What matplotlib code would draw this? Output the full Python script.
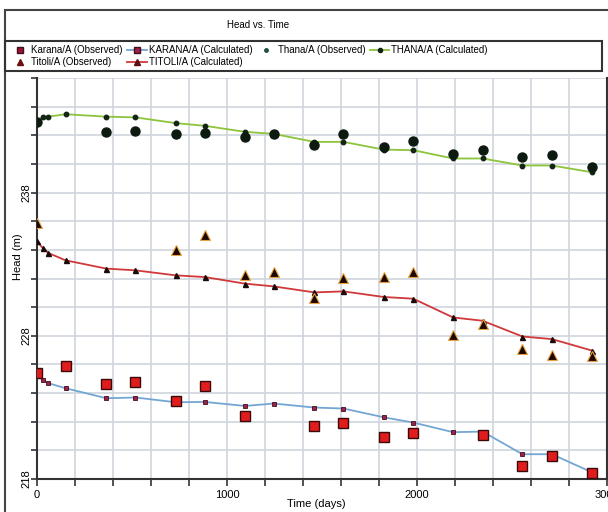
import matplotlib
matplotlib.use("Agg")
import matplotlib.pyplot as plt
from matplotlib.lines import Line2D
from matplotlib.patches import Rectangle
from matplotlib.ticker import MultipleLocator, FixedLocator

plt.rcParams['font.family'] = ['Liberation Sans', 'DejaVu Sans']

# time steps of the model (days)
calc_days = [0, 30, 60, 150, 365, 518, 730, 884, 1095, 1245, 1460, 1613,
             1825, 1980, 2190, 2345, 2555, 2710, 2920]

thana_calc = [242.94, 243.27, 243.30, 243.47, 243.30, 243.25, 242.85, 242.66,
              242.24, 242.10, 241.54, 241.54, 241.00, 240.96, 240.38, 240.38,
              239.89, 239.89, 239.42]
titoli_calc = [234.59, 234.13, 233.78, 233.27, 232.69, 232.57, 232.22, 232.10,
               231.64, 231.45, 231.03, 231.10, 230.71, 230.59, 229.28, 229.05,
               227.95, 227.77, 226.97]
karana_calc = [225.27, 224.92, 224.69, 224.34, 223.64, 223.69, 223.36, 223.38,
               223.10, 223.27, 222.99, 222.92, 222.31, 221.94, 221.27, 221.31,
               219.73, 219.73, 218.47]

thana_obs_days = [0, 365, 518, 730, 884, 1095, 1245, 1460, 1613, 1825, 1980,
                  2190, 2345, 2555, 2710, 2920]
thana_obs = [242.90, 242.24, 242.29, 242.08, 242.17, 241.90, 242.08, 241.31,
             242.06, 241.20, 241.59, 240.66, 240.94, 240.47, 240.59, 239.77]

titoli_obs_days = [0, 730, 884, 1095, 1245, 1460, 1613, 1825, 1980, 2190,
                   2345, 2555, 2710, 2920]
titoli_obs = [235.88, 233.97, 235.01, 232.27, 232.43, 230.64, 232.03, 232.10,
              232.43, 228.07, 228.84, 227.07, 226.67, 226.60]

karana_obs_days = [0, 150, 365, 518, 730, 884, 1095, 1460, 1613, 1825, 1980,
                   2345, 2555, 2710, 2920]
karana_obs = [225.39, 225.90, 224.64, 224.78, 223.48, 224.46, 222.43, 221.73,
              221.90, 220.96, 221.24, 221.08, 218.93, 219.63, 218.40]

y_major = [218, 228, 238]

W, H = 608, 512
fig = plt.figure(figsize=(W / 100, H / 100), dpi=100)
ax = fig.add_axes([37 / W, 1 - 479 / H, 570 / W, 401 / H])

green = '#8cc43c'
blue = '#74a6d4'
red = '#d0383a'

ax.plot(calc_days, thana_calc, color=green, lw=1.3, marker='o', ms=3.2,
        mfc='#152515', mec='#152515', zorder=3)
ax.plot(calc_days, titoli_calc, color=red, lw=1.3, marker='^', ms=3.6,
        mfc='#1a0a0a', mec='#1a0a0a', zorder=3)
ax.plot(calc_days, karana_calc, color=blue, lw=1.3, marker='s', ms=3.4,
        mfc='#a02048', mec='#401020', mew=0.6, zorder=3)

ax.plot(thana_obs_days, thana_obs, ls='none', marker='o', ms=6.5,
        mfc='#0c1a10', mec='#0c1a10', zorder=4)
ax.plot(titoli_obs_days, titoli_obs, ls='none', marker='^', ms=7,
        mfc='#1a0800', mec='#e8a040', mew=0.8, zorder=4)
ax.plot(karana_obs_days, karana_obs, ls='none', marker='s', ms=7,
        mfc='#e01c1c', mec='#3a0a0a', mew=1.0, zorder=4)

ax.set_xlim(0, 3000)
ax.set_ylim(218, 246)
ax.xaxis.set_major_locator(MultipleLocator(1000))
ax.xaxis.set_minor_locator(MultipleLocator(200))
ax.yaxis.set_major_locator(FixedLocator(y_major))
ax.yaxis.set_minor_locator(MultipleLocator(2))
ax.grid(True, which='both', color='#d0d5de', lw=1.2)
ax.set_axisbelow(True)

for s in ['left', 'bottom', 'right']:
    ax.spines[s].set_color('#333333')
    ax.spines[s].set_linewidth(1.5)
ax.spines['top'].set_visible(False)

ax.tick_params(axis='both', which='both', direction='out', length=4,
               width=1.2, color='#333333', labelsize=8)
ax.tick_params(axis='x', which='both', length=5, pad=3)
ax.tick_params(axis='y', which='both', pad=0)
for lbl in ax.get_yticklabels():
    lbl.set_rotation(90)
    lbl.set_va('center')

ax.set_xlabel('Time (days)', fontsize=8)
ax.set_ylabel('Head (m)', fontsize=8)
ax.xaxis.set_label_coords((316 - 37) / 570, -20 / 401)
ax.yaxis.set_label_coords(-14 / 570, (479 - 257) / 401)

# outer chart frame and legend frame
fig.add_artist(Rectangle((5 / W, -0.05), 1.2, 1 - 10 / H + 0.05,
                         transform=fig.transFigure, fill=False,
                         ec='#444444', lw=1.5))
fig.add_artist(Rectangle((5 / W, 1 - 71 / H), 597 / W, 30 / H,
                         transform=fig.transFigure, fill=False,
                         ec='#333333', lw=1.5))

fig.text(258 / W, 1 - 25 / H, 'Head vs. Time', ha='center', va='center',
         fontsize=7)

handles = [
    Line2D([], [], ls='none', marker='s', ms=4, mfc='#a01030', mec='#401020'),
    Line2D([], [], ls='none', marker='^', ms=4, mfc='#6a1010', mec='#6a1010'),
    Line2D([], [], color=blue, lw=1.3, marker='s', ms=4, mfc='#a02048',
           mec='#401020'),
    Line2D([], [], color=red, lw=1.3, marker='^', ms=4, mfc='#5a1010',
           mec='#5a1010'),
    Line2D([], [], ls='none', marker='o', ms=2.5, mfc='#205040',
           mec='#205040'),
    Line2D([], [], color=green, lw=1.3, marker='o', ms=3, mfc='#152515',
           mec='#152515'),
]
labels = ['Karana/A (Observed)', 'Titoli/A (Observed)',
          'KARANA/A (Calculated)', 'TITOLI/A (Calculated)',
          'Thana/A (Observed)', 'THANA/A (Calculated)']
fig.legend(handles, labels, ncol=4, loc='upper left',
           bbox_to_anchor=(10 / W, 1 - 45 / H), frameon=False,
           fontsize=7, handlelength=2.0, handletextpad=0.2,
           columnspacing=0.45, labelspacing=0.25, borderpad=0,
           borderaxespad=0)

fig.savefig('out.png', dpi=100)
